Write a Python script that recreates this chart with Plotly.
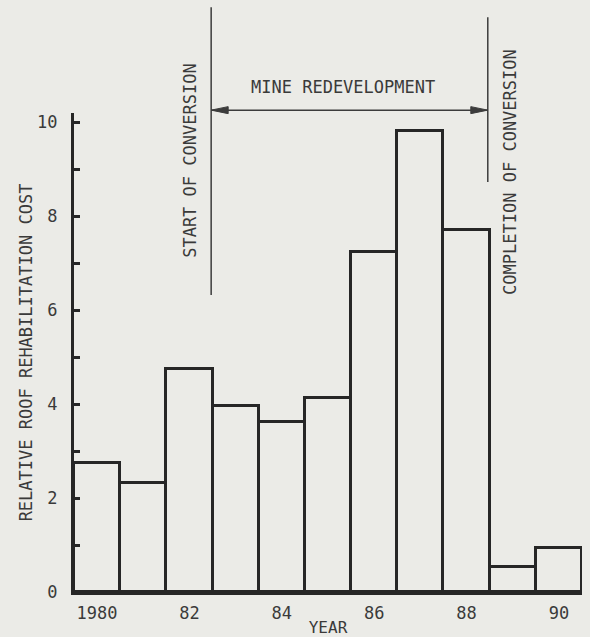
import plotly.graph_objects as go

years = [1980, 1981, 1982, 1983, 1984, 1985, 1986, 1987, 1988, 1989, 1990]
cost = [2.74, 2.32, 4.74, 3.96, 3.62, 4.13, 7.23, 9.81, 7.70, 0.53, 0.94]
xtick_vals = [1980, 1982, 1984, 1986, 1988, 1990]
xtick_text = ["1980", "82", "84", "86", "88", "90"]
ytick_vals = [0, 2, 4, 6, 8, 10]
start_conv = 1982.47
end_conv = 1988.46

BG = "#ebebe7"
INK = "#262626"
TXT = "#3a3a3a"
FONT = dict(family="DejaVu Sans Mono", size=17, color=TXT)

fig = go.Figure()
fig.add_trace(go.Bar(
    x=years, y=cost, width=1,
    marker=dict(color="rgba(0,0,0,0)", line=dict(color=INK, width=3)),
    showlegend=False, hoverinfo="x+y",
))

# annotation lines
x_per_px = 11 / 508.0
yp_per_px = 1 / 479.0
shapes = [
    dict(type="line", xref="x", yref="paper", x0=start_conv, x1=start_conv,
         y0=1.221, y1=0.620, line=dict(color="#3c3c3c", width=1.5)),
    dict(type="line", xref="x", yref="paper", x0=end_conv, x1=end_conv,
         y0=1.200, y1=0.856, line=dict(color="#3c3c3c", width=1.5)),
    dict(type="line", xref="x", yref="paper", x0=start_conv, x1=end_conv,
         y0=1.006, y1=1.006, line=dict(color="#3c3c3c", width=1.5)),
]
ay = 1.006
L = 17 * x_per_px
H = 3.5 * yp_per_px
shapes.append(dict(type="path", xref="x", yref="paper",
                   path=f"M{start_conv},{ay} L{start_conv + L},{ay + H} L{start_conv + L},{ay - H} Z",
                   fillcolor="#3c3c3c", line=dict(color="#3c3c3c", width=1)))
shapes.append(dict(type="path", xref="x", yref="paper",
                   path=f"M{end_conv},{ay} L{end_conv - L},{ay + H} L{end_conv - L},{ay - H} Z",
                   fillcolor="#3c3c3c", line=dict(color="#3c3c3c", width=1)))

annotations = [
    dict(text="MINE REDEVELOPMENT", xref="x", yref="paper", x=1985.33, y=1.054,
         showarrow=False, font=FONT, xanchor="center", yanchor="middle"),
    dict(text="START OF CONVERSION", xref="x", yref="paper", x=1982.01, y=0.90,
         showarrow=False, font=FONT, textangle=-90, xanchor="center", yanchor="middle"),
    dict(text="COMPLETION OF CONVERSION", xref="x", yref="paper", x=1988.94, y=0.877,
         showarrow=False, font=FONT, textangle=-90, xanchor="center", yanchor="middle"),
]

fig.update_layout(
    width=590, height=637,
    margin=dict(l=74, r=8, t=113, b=45),
    paper_bgcolor=BG, plot_bgcolor=BG,
    bargap=0,
    font=FONT,
    shapes=shapes,
    annotations=annotations,
    xaxis=dict(
        range=[1979.5, 1990.5], tickmode="array", tickvals=xtick_vals, ticktext=xtick_text,
        showline=True, linecolor=INK, linewidth=3, showgrid=False, zeroline=False,
        ticks="", ticklabelstandoff=4, tickfont=FONT, automargin=False,
        title=dict(text="YEAR", font=dict(family="DejaVu Sans Mono", size=16, color=TXT), standoff=0),
    ),
    yaxis=dict(
        range=[0, 10.2], tickmode="array", tickvals=ytick_vals,
        showline=True, linecolor=INK, linewidth=3, showgrid=False, zeroline=False,
        ticks="inside", ticklen=6, tickwidth=3, tickcolor=INK,
        minor=dict(dtick=1, tick0=0, ticks="inside", ticklen=6, tickwidth=3, tickcolor=INK, showgrid=False),
        ticklabelstandoff=10, tickfont=FONT, automargin=False,
        title=dict(text="RELATIVE ROOF REHABILITATION COST", font=FONT, standoff=1),
    ),
)

fig.write_html(
    "out.html",
    config={"displayModeBar": False},
    post_script="document.body.style.margin='0';document.body.style.background='%s';" % BG,
)
